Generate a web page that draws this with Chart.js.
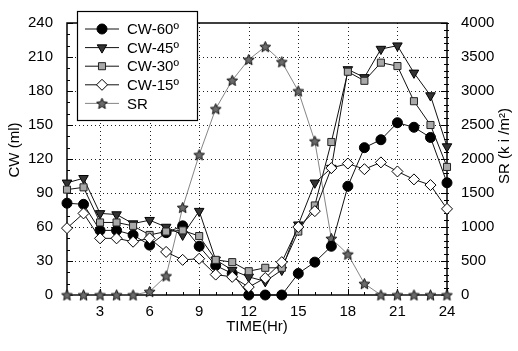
<!DOCTYPE html>
<html>
<head>
<meta charset="utf-8">
<script src="https://cdn.jsdelivr.net/npm/chart.js@4/dist/chart.umd.min.js"></script>
<style>
  html, body { margin: 0; padding: 0; background: #fff; }
  #wrap { width: 518px; height: 351px; }
</style>
</head>
<body>
<div id="wrap"><canvas id="chart" width="518" height="351"></canvas></div>
<script>
// datos
const hours = [1, 2, 3, 4, 5, 6, 7, 8, 9, 10, 11, 12, 13, 14, 15, 16, 17, 18, 19, 20, 21, 22, 23, 24];
const cw60 = [81, 80, 57, 57, 53, 44, 55, 61, 43, 26, 19, 0, 0, 0, 19, 29, 43, 96, 130, 137, 152, 148, 139, 99];
const cw45 = [99, 103, 72, 71, 63, 66, 60, 53, 74, 31, 22, 16, 12, 22, 62, 99, 112, 199, 192, 217, 220, 196, 176, 131];
const cw30 = [93, 95, 64, 64, 61, 53, 56, 57, 52, 31, 29, 21, 24, 24, 56, 79, 135, 197, 189, 205, 202, 171, 150, 113];
const cw15 = [59, 72, 50, 50, 47, 50, 38, 31, 32, 18, 16, 7, 15, 29, 60, 74, 112, 116, 111, 117, 109, 102, 97, 76];
const sr = [0, 0, 0, 0, 0, 50, 280, 1286, 2062, 2738, 3157, 3462, 3652, 3429, 3000, 2262, 830, 600, 167, 0, 0, 0, 0, 0];

const xTicks = [3, 6, 9, 12, 15, 18, 21, 24];
const cwTicks = [0, 30, 60, 90, 120, 150, 180, 210, 240];
const srTicks = [0, 500, 1000, 1500, 2000, 2500, 3000, 3500, 4000];

const seriesNames = ['CW-60º', 'CW-45º', 'CW-30º', 'CW-15º', 'SR'];

const FONT = '"Liberation Sans", Arial, sans-serif';

// estrella para SR
function makeStar(size) {
  const c = document.createElement('canvas');
  c.width = size; c.height = size;
  const g = c.getContext('2d');
  const cx = size / 2, cy = size / 2 + 0.5, R = size / 2 - 0.8, r = R * 0.45;
  g.beginPath();
  for (let i = 0; i < 10; i++) {
    const a = -Math.PI / 2 + i * Math.PI / 5;
    const rr = i % 2 === 0 ? R : r;
    g.lineTo(cx + rr * Math.cos(a), cy + rr * Math.sin(a));
  }
  g.closePath();
  g.fillStyle = '#6a6a6a';
  g.fill();
  g.lineWidth = 1;
  g.strokeStyle = '#111';
  g.stroke();
  return c;
}
const starImg = makeStar(13);

function pts(arr) {
  return hours.map((h, i) => ({ x: h, y: arr[i] }));
}

const styles = [
  { pointStyle: 'circle', radius: 5, bg: '#000', border: '#000', rot: 0 },
  { pointStyle: 'triangle', radius: 5.5, bg: '#333', border: '#000', rot: 180 },
  { pointStyle: 'rect', radius: 5, bg: '#a8a8a8', border: '#222', rot: 0 },
  { pointStyle: 'rectRot', radius: 5.5, bg: '#fff', border: '#000', rot: 0 },
  { pointStyle: starImg, radius: 6, bg: '#777', border: '#000', rot: 0 }
];

const allData = [cw60, cw45, cw30, cw15, sr];
const orders = [4, 3, 2, 1, 5];

const datasets = allData.map((d, i) => ({
  label: seriesNames[i],
  data: pts(d),
  yAxisID: i === 4 ? 'ySR' : 'yCW',
  borderColor: i === 4 ? '#666' : '#111',
  borderWidth: i === 4 ? 0.8 : 1,
  pointStyle: styles[i].pointStyle,
  pointRadius: styles[i].radius,
  pointBackgroundColor: styles[i].bg,
  pointBorderColor: styles[i].border,
  pointBorderWidth: 1,
  pointRotation: styles[i].rot,
  tension: 0,
  clip: false,
  order: orders[i]
}));

// rejilla, marco y marcas hacia adentro
const framePlugin = {
  id: 'frame',
  beforeDatasetsDraw(chart) {
    const ctx = chart.ctx;
    const a = chart.chartArea;
    const sx = chart.scales.x, sl = chart.scales.yCW, sr2 = chart.scales.ySR;
    ctx.save();
    // rejilla punteada
    ctx.strokeStyle = '#222';
    ctx.lineWidth = 1;
    ctx.setLineDash([1, 3]);
    xTicks.forEach(v => {
      if (v === 24) return;
      const px = Math.round(sx.getPixelForValue(v)) + 0.5;
      ctx.beginPath(); ctx.moveTo(px, a.top); ctx.lineTo(px, a.bottom); ctx.stroke();
    });
    cwTicks.forEach(v => {
      if (v === 0 || v === 240) return;
      const py = Math.round(sl.getPixelForValue(v)) + 0.5;
      ctx.beginPath(); ctx.moveTo(a.left, py); ctx.lineTo(a.right, py); ctx.stroke();
    });
    ctx.setLineDash([]);
    // marco
    ctx.lineWidth = 1.5;
    ctx.strokeStyle = '#000';
    ctx.strokeRect(a.left, a.top, a.right - a.left, a.bottom - a.top);
    ctx.lineWidth = 1;
    // marcas eje x
    for (let h = 1; h <= 24; h++) {
      const px = Math.round(sx.getPixelForValue(h)) + 0.5;
      const len = h % 3 === 0 ? 6 : 3;
      ctx.beginPath(); ctx.moveTo(px, a.bottom); ctx.lineTo(px, a.bottom - len); ctx.stroke();
    }
    // marcas eje izquierdo
    for (let v = 0; v <= 240; v += 10) {
      const py = Math.round(sl.getPixelForValue(v)) + 0.5;
      const len = v % 30 === 0 ? 6 : 3;
      ctx.beginPath(); ctx.moveTo(a.left, py); ctx.lineTo(a.left + len, py); ctx.stroke();
    }
    // marcas eje derecho
    for (let v = 0; v <= 4000; v += 100) {
      const py = Math.round(sr2.getPixelForValue(v)) + 0.5;
      const len = v % 500 === 0 ? 6 : 3;
      ctx.beginPath(); ctx.moveTo(a.right + 2, py); ctx.lineTo(a.right - len, py); ctx.stroke();
    }
    ctx.restore();
  },
  afterDraw(chart) {
    const ctx = chart.ctx;
    ctx.save();
    ctx.fillStyle = '#000';
    ctx.font = '15px ' + FONT;
    // titulos de ejes
    ctx.textAlign = 'center';
    ctx.textBaseline = 'middle';
    ctx.fillText('TIME(Hr)', 257, 327);
    ctx.save();
    ctx.translate(15, 150);
    ctx.rotate(-Math.PI / 2);
    ctx.fillText('CW (ml)', 0, 0);
    ctx.restore();
    ctx.save();
    ctx.translate(505, 146);
    ctx.rotate(-Math.PI / 2);
    ctx.fillText('SR (k i /m²)', 0, 0);
    ctx.restore();

    // leyenda
    const bx = 77, by = 11, bw = 120, bh = 109;
    ctx.fillStyle = '#fff';
    ctx.fillRect(bx, by, bw, bh);
    ctx.lineWidth = 1.2;
    ctx.strokeStyle = '#000';
    ctx.strokeRect(bx + 0.5, by + 0.5, bw, bh);
    ctx.textAlign = 'left';
    ctx.textBaseline = 'middle';
    seriesNames.forEach((name, i) => {
      const y = 29 + i * 18.6;
      const ds = chart.data.datasets[i];
      ctx.strokeStyle = ds.borderColor;
      ctx.lineWidth = ds.borderWidth;
      ctx.beginPath(); ctx.moveTo(85, y); ctx.lineTo(119, y); ctx.stroke();
      drawMarker(ctx, ds, 102, y);
      ctx.fillStyle = '#000';
      ctx.fillText(name, 127, y + 1);
    });
    ctx.restore();
  }
};

function drawMarker(ctx, ds, x, y) {
  ctx.save();
  ctx.fillStyle = ds.pointBackgroundColor;
  ctx.strokeStyle = ds.pointBorderColor;
  ctx.lineWidth = 1;
  Chart.helpers.drawPoint(ctx, {
    pointStyle: ds.pointStyle,
    radius: ds.pointRadius,
    rotation: ds.pointRotation,
    borderWidth: 1
  }, x, y);
  ctx.restore();
}

const tickFont = { family: FONT, size: 15 };

new Chart(document.getElementById('chart'), {
  type: 'line',
  data: { datasets: datasets },
  options: {
    responsive: false,
    animation: false,
    events: [],
    layout: { padding: { top: 15, left: 0, right: 0, bottom: 0 } },
    plugins: { legend: { display: false }, tooltip: { enabled: false } },
    scales: {
      x: {
        type: 'linear',
        min: 1, max: 24,
        afterBuildTicks: s => { s.ticks = xTicks.map(v => ({ value: v })); },
        afterFit: s => { s.height = 56; },
        ticks: { font: tickFont, color: '#000', padding: 8, maxRotation: 0, autoSkip: false, callback: v => String(v) },
        grid: { display: false, drawTicks: false },
        border: { display: false }
      },
      yCW: {
        type: 'linear',
        position: 'left',
        min: 0, max: 240,
        afterBuildTicks: s => { s.ticks = cwTicks.map(v => ({ value: v })); },
        afterFit: s => { s.width = 67; },
        ticks: { font: tickFont, color: '#000', padding: 14, callback: v => String(v) },
        grid: { display: false, drawTicks: false },
        border: { display: false }
      },
      ySR: {
        type: 'linear',
        position: 'right',
        min: 0, max: 4000,
        afterBuildTicks: s => { s.ticks = srTicks.map(v => ({ value: v })); },
        afterFit: s => { s.width = 71; },
        ticks: { font: tickFont, color: '#000', padding: 14, callback: v => String(v) },
        grid: { display: false, drawTicks: false },
        border: { display: false }
      }
    }
  },
  plugins: [framePlugin]
});
</script>
</body>
</html>
